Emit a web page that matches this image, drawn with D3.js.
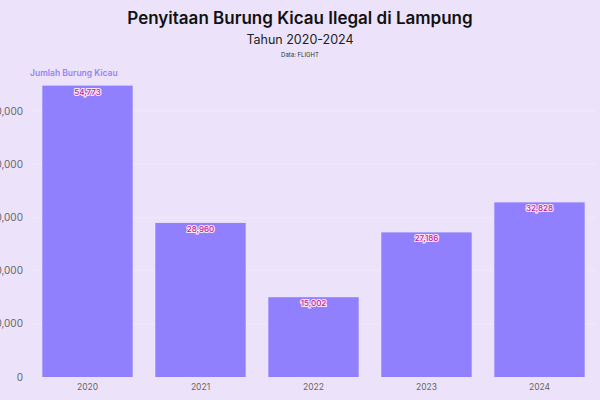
<!DOCTYPE html>
<html>
<head>
<meta charset="utf-8">
<script src="https://cdn.jsdelivr.net/npm/d3@7"></script>
<style>
  html, body { margin: 0; padding: 0; background: #ece3fa; overflow: hidden; }
  svg { display: block; }
</style>
</head>
<body>
<div class="chart"></div>
<script>
const years = ['2020', '2021', '2022', '2023', '2024']
const birds = [54773, 28960, 15002, 27186, 32828]
const yTicks = [0, 10000, 20000, 30000, 40000, 50000]

const width = 600, height = 400
const baseLine = 377

const svg = d3.select('.chart').append('svg')
  .attr('width', width)
  .attr('height', height)

svg.append('rect')
  .attr('width', width)
  .attr('height', height)
  .attr('fill', '#ece3fa')

const xScale = d3.scaleBand()
  .domain(years)
  .range([31, 596])
  .paddingInner(0.2)
  .paddingOuter(0.1)

const yScale = d3.scaleLinear()
  .domain([0, 50000])
  .range([baseLine, baseLine - 5 * 53.2])

// titles
svg.append('text')
  .attr('x', 300).attr('y', 24)
  .attr('text-anchor', 'middle')
  .attr('font-family', 'Inter, "Noto Sans", sans-serif')
  .attr('font-weight', 600)
  .attr('font-size', 17)
  .attr('fill', '#111')
  .text('Penyitaan Burung Kicau Ilegal di Lampung')

svg.append('text')
  .attr('x', 300).attr('y', 44)
  .attr('text-anchor', 'middle')
  .attr('font-family', 'Inter, "Noto Sans", sans-serif')
  .attr('font-size', 12.5)
  .attr('fill', '#222')
  .text('Tahun 2020-2024')

svg.append('text')
  .attr('x', 300).attr('y', 57)
  .attr('text-anchor', 'middle')
  .attr('font-family', 'Inter, "Noto Sans", sans-serif')
  .attr('font-size', 6)
  .attr('fill', '#333')
  .text('Data: FLIGHT')

svg.append('text')
  .attr('x', 30).attr('y', 76)
  .attr('font-family', 'Inter, "Noto Sans", sans-serif')
  .attr('font-weight', 600)
  .attr('font-size', 8.5)
  .attr('fill', '#9785f0')
  .text('Jumlah Burung Kicau')

// gridlines + y labels (left edge is cut in the original too)
const yAxis = svg.append('g')

yAxis.selectAll('line')
  .data(yTicks.filter(d => d > 0))
  .enter()
  .append('line')
  .attr('x1', 31).attr('x2', 596)
  .attr('y1', d => yScale(d)).attr('y2', d => yScale(d))
  .attr('stroke', '#efe8fb')
  .attr('stroke-width', 1.5)

yAxis.selectAll('text')
  .data(yTicks)
  .enter()
  .append('text')
  .attr('x', 23)
  .attr('y', d => yScale(d) + 3.5)
  .attr('text-anchor', 'end')
  .attr('font-family', 'Inter, "Noto Sans", sans-serif')
  .attr('font-size', 10)
  .attr('fill', '#666')
  .text(d => d3.format(',')(d))

// bars
svg.selectAll('rect.bar')
  .data(birds)
  .enter()
  .append('rect')
  .attr('class', 'bar')
  .attr('x', (d, i) => xScale(years[i]))
  .attr('y', d => yScale(d))
  .attr('width', xScale.bandwidth())
  .attr('height', d => baseLine - yScale(d))
  .attr('fill', '#9180fd')

// value labels
svg.selectAll('text.val')
  .data(birds)
  .enter()
  .append('text')
  .attr('class', 'val')
  .attr('x', (d, i) => xScale(years[i]) + xScale.bandwidth() / 2)
  .attr('y', d => yScale(d) + 9)
  .attr('text-anchor', 'middle')
  .attr('font-family', 'Inter, "Noto Sans", sans-serif')
  .attr('font-size', 8)
  .attr('font-weight', 500)
  .attr('fill', '#c0189a')
  .attr('stroke', '#fbe6f6')
  .attr('stroke-width', 2.2)
  .attr('paint-order', 'stroke')
  .text(d => d3.format(',')(d))

// x axis
const xAxis = svg.append('g')
  .attr('transform', 'translate(0,' + baseLine + ')')
  .call(d3.axisBottom(xScale).tickSize(0).tickPadding(7))

xAxis.selectAll('.tick text')
  .attr('font-family', 'Inter, "Noto Sans", sans-serif')
  .attr('font-size', 8.5)
  .attr('fill', '#666')

xAxis.selectAll('.domain').remove()
</script>
</body>
</html>
